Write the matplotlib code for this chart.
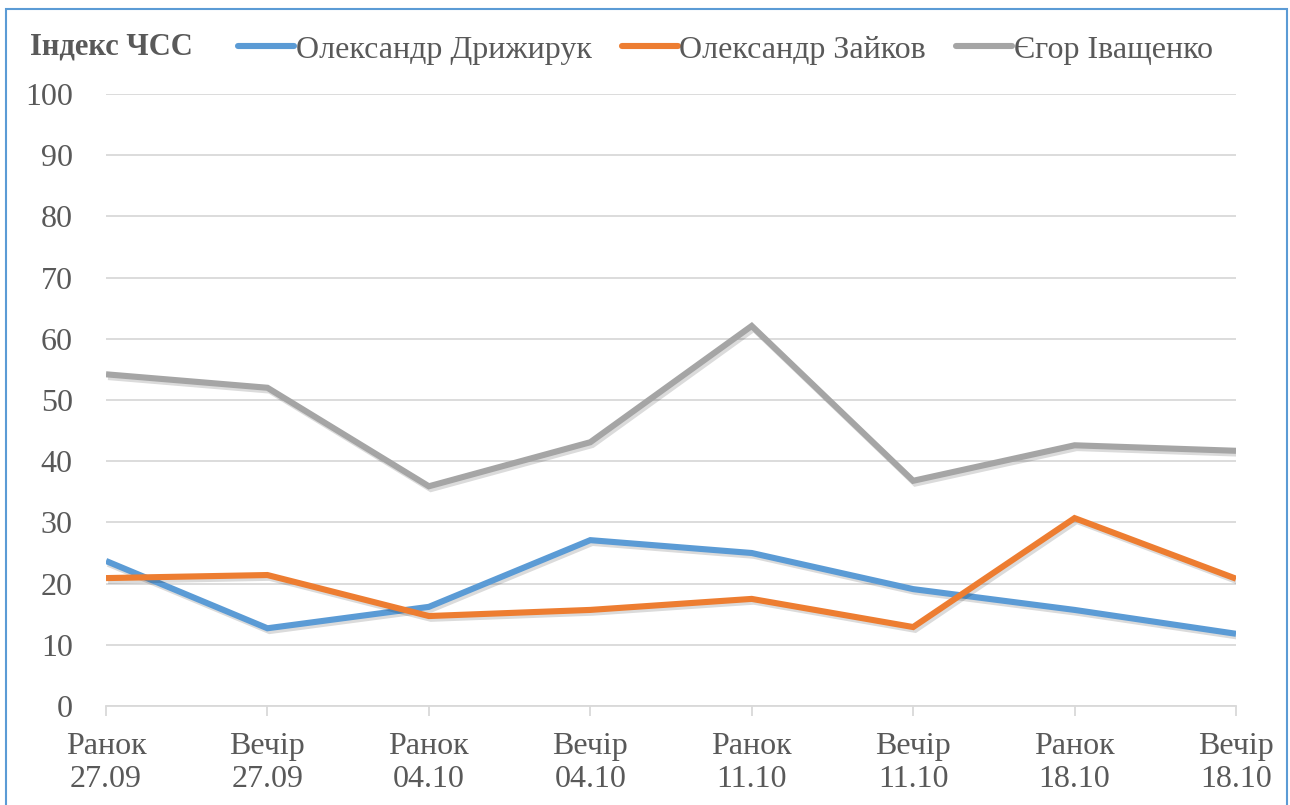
import matplotlib
matplotlib.use("Agg")
import matplotlib.pyplot as plt
import matplotlib.patheffects as pe
from matplotlib.patches import Rectangle

plt.rcParams['font.family'] = ['Liberation Serif', 'DejaVu Serif']

categories = ["Ранок\n27.09", "Вечір\n27.09", "Ранок\n04.10", "Вечір\n04.10",
              "Ранок\n11.10", "Вечір\n11.10", "Ранок\n18.10", "Вечір\n18.10"]
drizhyruk = [23.7, 12.7, 16.2, 27.1, 25.0, 19.1, 15.7, 11.8]
zaikov = [20.9, 21.4, 14.7, 15.7, 17.5, 12.9, 30.7, 20.8]
ivashchenko = [54.2, 52.0, 35.9, 43.1, 62.1, 36.8, 42.6, 41.7]

series_names = ["Олександр Дрижирук", "Олександр Зайков", "Єгор Іващенко"]
series_values = [drizhyruk, zaikov, ivashchenko]
series_colors = ["#5B9BD5", "#ED7D31", "#A5A5A5"]
y_ticks = list(range(0, 101, 10))

text_color = "#595959"
grid_color = "#D9D9D9"

fig = plt.figure(figsize=(12.9, 8.05), dpi=100)
ax = fig.add_axes([106 / 1290, 99 / 805, 1130 / 1290, 612 / 805])

x = list(range(len(categories)))
shadow = [pe.SimpleLineShadow(offset=(1.5, -2), shadow_color='black', alpha=0.14), pe.Normal()]
for name, vals, col in zip(series_names, series_values, series_colors):
    ax.plot(x, vals, color=col, lw=4.4, solid_joinstyle='miter',
            solid_capstyle='butt', label=name, path_effects=shadow, zorder=3)

ax.set_xlim(0, len(categories) - 1)
ax.set_ylim(0, 100)
ax.set_yticks(y_ticks)
ax.set_xticks(x)
ax.set_xticklabels(categories)
ax.grid(axis='y', color=grid_color, lw=1.3)
ax.set_axisbelow(True)
for s in ['top', 'right', 'left']:
    ax.spines[s].set_visible(False)
ax.spines['bottom'].set_color(grid_color)
ax.spines['bottom'].set_linewidth(1.3)
ax.tick_params(axis='y', length=0, pad=24, labelsize=23, labelcolor=text_color)
ax.tick_params(axis='x', length=7, width=1.3, color=grid_color, pad=12,
               labelsize=23, labelcolor=text_color)
for lab in ax.get_xticklabels():
    lab.set_linespacing(1.15)

fig.text(30 / 1290, 1 - 47 / 805, "Індекс ЧСС", fontsize=22, fontweight='bold',
         color=text_color, va='center', ha='left')

leg_handles = []
for col in series_colors:
    h, = ax.plot([], [], color=col, lw=4.4, solid_capstyle='round')
    leg_handles.append(h)
fig.legend(leg_handles, series_names, loc='center left',
           bbox_to_anchor=(238 / 1290, 1 - 50 / 805), ncol=3, frameon=False,
           fontsize=23, labelcolor=text_color, handlelength=1.75,
           handletextpad=0.05, columnspacing=0.95, borderaxespad=0, borderpad=0)

fig.patches.append(Rectangle((6 / 1290, -0.01), 1281 / 1290, 1 - 9 / 805 + 0.01,
                             transform=fig.transFigure, fill=False,
                             edgecolor="#5B9BD5", lw=1.5))

fig.savefig("out.png", dpi=100, facecolor='white')
